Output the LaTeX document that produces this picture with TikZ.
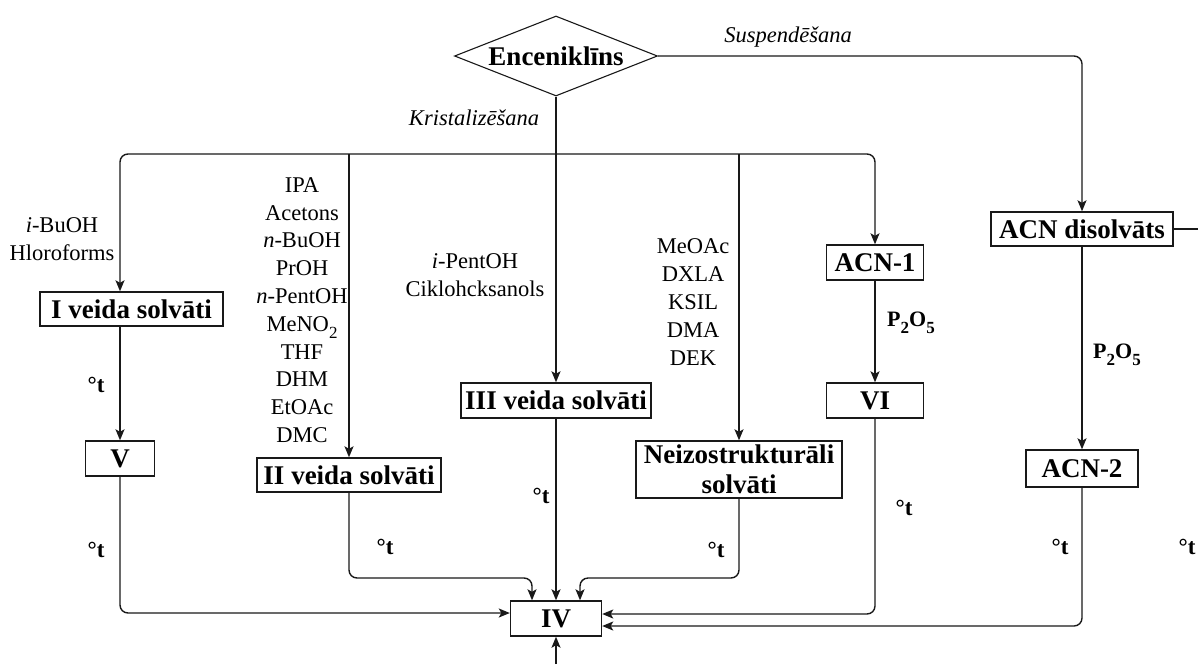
\documentclass[tikz,border=0pt]{standalone}
\usepackage{fontspec}
\setmainfont{Liberation Serif}
\usetikzlibrary{arrows.meta,shapes.geometric,calc}
\definecolor{linec}{RGB}{25,25,25}
\newcommand\boldlab{\fontsize{27}{30}\selectfont\bfseries}
\newcommand\reglab{\fontsize{22.5}{27.8}\selectfont}
\newcommand\itlab{\fontsize{22.5}{27}\selectfont\itshape}
\newcommand\degfont{\fontsize{23}{26}\selectfont\bfseries}
\newcommand\pfont{\fontsize{22}{26}\selectfont\bfseries}
\newcommand\lowsub[2]{\raisebox{-0.32em}{\fontsize{#1}{#1}\selectfont #2}}
\begin{document}
\begin{tikzpicture}[x=1pt,y=-1pt,
  line/.style={draw=linec,line width=1.4pt},
  arr/.style={line,-{Stealth[length=11pt,width=9pt,inset=2.5pt]}},
  rc/.style={rounded corners=8pt},
  box/.style={draw=linec,line width=1.4pt,inner sep=0pt,font=\boldlab,align=center},
  lab/.style={font=\reglab,align=center,inner sep=0pt},
  itl/.style={font=\itlab,inner sep=0pt},
  deg/.style={font=\degfont,inner sep=0pt},
  pox/.style={font=\pfont,inner sep=0pt}]
\useasboundingbox (0,0) rectangle (1198,664);
% nodes
\node[box,diamond,aspect=2.5,minimum width=203pt,minimum height=80pt,line width=1.1pt] (enc) at (556,56) {Enceniklīns};
\node[box,minimum width=183pt,minimum height=34pt] (I) at (131.5,309) {I veida solvāti};
\node[box,minimum width=69pt,minimum height=35pt] (V) at (120,458.5) {V};
\node[box,minimum width=184pt,minimum height=34pt] (II) at (349,475) {II veida solvāti};
\node[box,minimum width=190pt,minimum height=35pt] (III) at (556,400.5) {III veida solvāti};
\node[box,minimum width=206pt,minimum height=57pt] (neizo) at (739,469.5) {Neizostrukturāli\\solvāti};
\node[box,minimum width=97pt,minimum height=35pt] (acn1) at (875,262.5) {ACN-1};
\node[box,minimum width=97pt,minimum height=35pt] (vi) at (875,400.5) {VI};
\node[box,minimum width=182pt,minimum height=34pt] (acnd) at (1082,229) {ACN disolvāts};
\node[box,minimum width=112pt,minimum height=37pt] (acn2) at (1082,468.5) {ACN-2};
\node[box,minimum width=91pt,minimum height=35pt] (iv) at (556,618.5) {IV};
% helper coordinates
\coordinate (kr) at (556,154);
\coordinate (jL) at (532,578);
\coordinate (jR) at (580,578);
\coordinate (edgeR) at (1198,229);
\coordinate (edgeB) at (556,664);
% connectors
\draw[arr] (enc.south) -- (III.north);
\draw[arr,rc] (kr) -| ([xshift=-11.5pt]I.north);
\draw[arr,rc] (kr) -| (acn1.north);
\draw[arr] (II.north |- kr) -- (II.north);
\draw[arr] (neizo.north |- kr) -- (neizo.north);
\draw[arr,rc] (enc.east) -| (acnd.north);
\draw[line] (acnd.east) -- (edgeR);
\draw[arr] (acnd.south) -- (acn2.north);
\draw[arr] (acn1.south) -- (vi.north);
\draw[arr] ([xshift=-11.5pt]I.south) -- (V.north);
\draw[arr,rc] (V.south) |- ([yshift=5.5pt]iv.west);
\draw[arr,rc] (II.south) |- (jL) -- (iv.north -| jL);
\draw[arr] (III.south) -- (iv.north);
\draw[arr,rc] (neizo.south) |- (jR) -- (iv.north -| jR);
\draw[arr,rc] (vi.south) |- ([yshift=4.5pt]iv.east);
\draw[arr,rc] (acn2.south) |- ([yshift=-7.5pt]iv.east);
\draw[arr] (edgeB) -- (iv.south);
% labels
\node[itl] (krl) at (474,118) {Kristalizēšana};
\node[itl] (susl) at (788,37) {Suspendēšana};
\node[lab] (l1) at (62,239) {\textit{i}-BuOH\\Hloroforms};
\node[lab] (l2) at (302,310) {IPA\\Acetons\\\textit{n}-BuOH\\PrOH\\\textit{n}-PentOH\\MeNO\lowsub{17}{2}\\THF\\DHM\\EtOAc\\DMC};
\node[lab] (l3) at (475,275) {\textit{i}-PentOH\\Ciklohcksanols};
\node[lab] (l4) at (693,302) {MeOAc\\DXLA\\KSIL\\DMA\\DEK};
\node[pox] (p1) at (911,323) {P\lowsub{17}{2}O\lowsub{17}{5}};
\node[pox] (p2) at (1117,355) {P\lowsub{17}{2}O\lowsub{17}{5}};
\node[deg] (t1) at (96,385) {°t};
\node[deg] (t2) at (96,550) {°t};
\node[deg] (t3) at (385,547) {°t};
\node[deg] (t4) at (541,496) {°t};
\node[deg] (t5) at (716,550) {°t};
\node[deg] (t6) at (904,508) {°t};
\node[deg] (t7) at (1060,547) {°t};
\node[deg] (t8) at (1187,547) {°t};
\end{tikzpicture}
\end{document}
